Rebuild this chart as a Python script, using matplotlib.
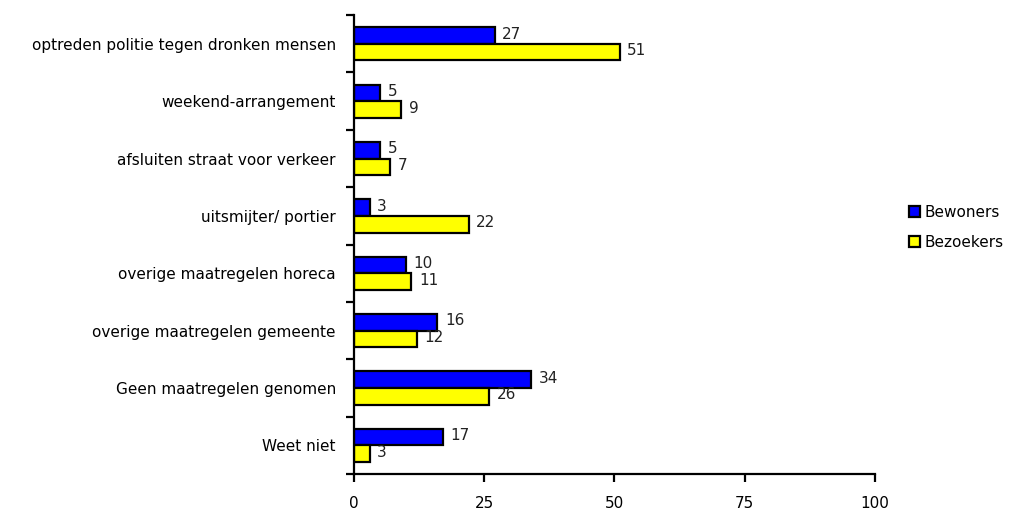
import numpy as np
import matplotlib.pyplot as plt

categories = ['optreden politie tegen dronken mensen', 'weekend-arrangement',
              'afsluiten straat voor verkeer', 'uitsmijter/ portier',
              'overige maatregelen horeca', 'overige maatregelen gemeente',
              'Geen maatregelen genomen', 'Weet niet']
bewoners = [27, 5, 5, 3, 10, 16, 34, 17]
bezoekers = [51, 9, 7, 22, 11, 12, 26, 3]

plt.rcParams['font.family'] = ['DejaVu Sans']
plt.rcParams['font.size'] = 11

fig = plt.figure(figsize=(10.1, 5.11), dpi=100)
ax = fig.add_axes([0.3505, 0.0724, 0.5158, 0.898])

n = len(categories)
centers = n - np.arange(n) - 0.5
h = 0.29
b1 = ax.barh(centers + h / 2, bewoners, height=h, color='#0000ff', edgecolor='black',
             linewidth=1.6, label='Bewoners')
b2 = ax.barh(centers - h / 2, bezoekers, height=h, color='#ffff00', edgecolor='black',
             linewidth=1.6, label='Bezoekers')

for bars, vals in ((b1, bewoners), (b2, bezoekers)):
    for rect, v in zip(bars, vals):
        ax.annotate(str(v), (rect.get_width(), rect.get_y() + rect.get_height() / 2),
                    xytext=(5.5, 1), textcoords='offset points', va='center', ha='left',
                    fontsize=11, color='#222222')

ax.set_xlim(0, 100)
ax.set_ylim(0, n)
ax.set_xticks([0, 25, 50, 75, 100])
ax.set_yticks(np.arange(n + 1))
ax.set_yticklabels([])
ax.set_yticks(centers, minor=True)
ax.set_yticklabels(categories, minor=True)
ax.tick_params(axis='y', which='minor', length=0, pad=13, labelsize=11)
ax.tick_params(axis='y', which='major', direction='out', length=6, width=1.6)
ax.tick_params(axis='x', direction='out', length=6, width=1.6, pad=10, labelsize=11)

for s in ('top', 'right'):
    ax.spines[s].set_visible(False)
for s in ('left', 'bottom'):
    ax.spines[s].set_linewidth(1.6)

leg = fig.legend(handles=[b1, b2], loc='center left', bbox_to_anchor=(0.886, 0.555),
                 frameon=False, fontsize=11, handlelength=0.75, handleheight=0.75,
                 handletextpad=0.3, labelspacing=1.0)

fig.savefig('out.png', dpi=100)
